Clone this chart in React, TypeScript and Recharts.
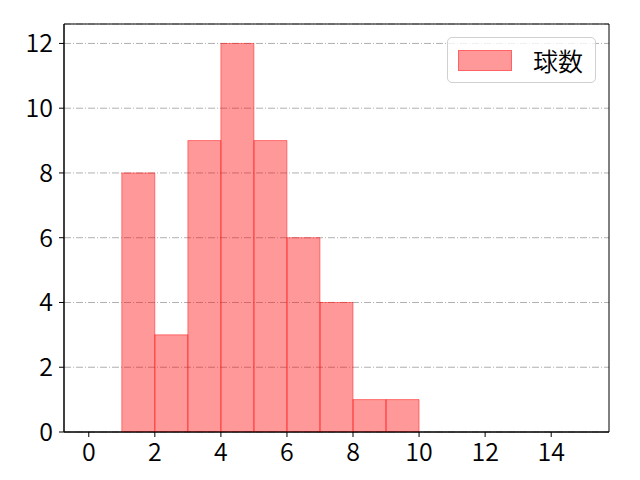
import React from "react";
import {
  BarChart, Bar, XAxis, YAxis, CartesianGrid, Legend, ReferenceArea,
} from "recharts";

// histogram bins (centre of each 1-wide bin) and counts
const binCenters = [1.5, 2.5, 3.5, 4.5, 5.5, 6.5, 7.5, 8.5, 9.5];
const counts = [8, 3, 9, 12, 9, 6, 4, 1, 1];
const xTicks = [0, 2, 4, 6, 8, 10, 12, 14];
const yTicks = [0, 2, 4, 6, 8, 10, 12];
const seriesName = "球数";

const data = binCenters.map((x, i) => ({ x, count: counts[i] }));

const W = 640;
const H = 480;
const margin = { top: 24, right: 31, bottom: 0, left: 0 };
const yAxisW = 64;
const xAxisH = 48;
const xDomain: [number, number] = [-0.75, 15.75];
const yDomain: [number, number] = [0, 12.6];

const font = "'Noto Sans CJK JP', 'Noto Sans', sans-serif";
const tickStyle = { fill: "#000", fontSize: 25, fontFamily: font, fontWeight: 350 };

function LegendBox() {
  return (
    <div
      style={{
        width: 147,
        height: 44,
        border: "1px solid #d0d0d0",
        borderRadius: 5,
        background: "rgba(255,255,255,0.8)",
        display: "flex",
        alignItems: "center",
        fontFamily: font,
        fontSize: 25,
        fontWeight: 350,
        color: "#000",
        boxSizing: "content-box",
      }}
    >
      <span
        style={{
          display: "inline-block",
          width: 52,
          height: 19,
          marginLeft: 10,
          background: "rgba(255,0,0,0.4)",
          border: "1px solid rgba(255,0,0,0.35)",
        }}
      />
      <span style={{ marginLeft: 21 }}>{seriesName}</span>
    </div>
  );
}

export default function App() {
  return (
    <div style={{ position: "absolute", left: 0, top: 0, width: W, height: H, background: "#fff" }}>
      <BarChart width={W} height={H} data={data} margin={margin} barCategoryGap={0} barGap={0}>
        <XAxis
          dataKey="x"
          type="number"
          domain={xDomain}
          allowDataOverflow
          ticks={xTicks}
          interval={0}
          height={xAxisH}
          tick={tickStyle}
          tickSize={5}
          tickMargin={6}
          tickLine={{ stroke: "#000" }}
          axisLine={{ stroke: "#000" }}
        />
        <YAxis
          type="number"
          domain={yDomain}
          allowDataOverflow
          ticks={yTicks}
          interval={0}
          width={yAxisW}
          tick={tickStyle}
          tickSize={5}
          tickMargin={6}
          tickLine={{ stroke: "#000" }}
          axisLine={{ stroke: "#000" }}
        />
        <Bar
          dataKey="count"
          name={seriesName}
          fill="#ff0000"
          fillOpacity={0.4}
          stroke="#ff0000"
          strokeOpacity={0.45}
          strokeWidth={1}
          isAnimationActive={false}
        />
        <CartesianGrid vertical={false} stroke="#b0b0b0" strokeDasharray="7 2 1 2" />
        {/* axes frame */}
        <ReferenceArea
          x1={xDomain[0]}
          x2={xDomain[1]}
          y1={yDomain[0]}
          y2={yDomain[1]}
          fill="none"
          fillOpacity={0}
          stroke="#000"
          strokeWidth={1}
          ifOverflow="visible"
        />
        <Legend
          layout="horizontal"
          verticalAlign="middle"
          align="center"
          content={() => <LegendBox />}
          wrapperStyle={{ position: "absolute", left: 447, top: 37, width: 150, height: 46 }}
        />
      </BarChart>
    </div>
  );
}
